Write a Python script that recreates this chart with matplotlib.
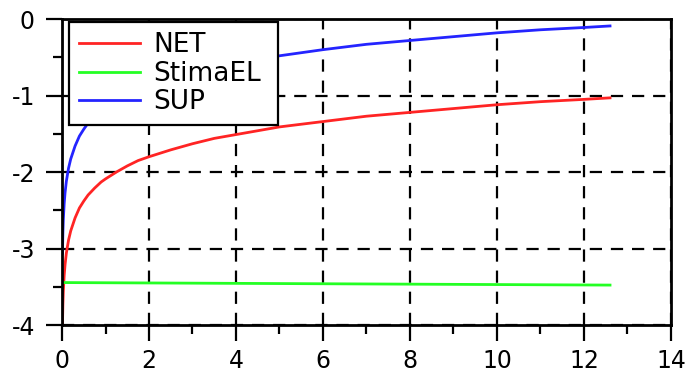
import numpy as np
import matplotlib
matplotlib.use("Agg")
import matplotlib.pyplot as plt
from matplotlib.ticker import MultipleLocator

plt.rcParams['font.family'] = 'DejaVu Sans'
plt.rcParams['axes.unicode_minus'] = False

# values
x_pts = [0.01, 0.02, 0.03, 0.05, 0.07, 0.1, 0.15, 0.2, 0.3, 0.4, 0.5, 0.6,
         0.75, 0.9, 1, 1.25, 1.5, 1.75, 2, 2.5, 3, 3.5, 4, 4.5, 5, 6, 7, 8,
         9, 10, 11, 12, 12.6]
net = [-4.0, -3.73, -3.56, -3.35, -3.21, -3.06, -2.89, -2.77, -2.60, -2.47,
       -2.38, -2.30, -2.21, -2.13, -2.09, -2.00, -1.92, -1.85, -1.80, -1.71,
       -1.63, -1.56, -1.51, -1.46, -1.41, -1.34, -1.27, -1.22, -1.17, -1.12,
       -1.08, -1.05, -1.03]
sup = [-3.06, -2.79, -2.62, -2.41, -2.27, -2.12, -1.95, -1.83, -1.66, -1.53,
       -1.44, -1.36, -1.27, -1.19, -1.15, -1.06, -0.98, -0.91, -0.86, -0.77,
       -0.69, -0.62, -0.57, -0.52, -0.48, -0.40, -0.33, -0.28, -0.23, -0.18,
       -0.14, -0.11, -0.09]
x_stima = [0.01, 12.6]
stima = [-3.445, -3.478]

fig = plt.figure(figsize=(6.86, 3.74), dpi=100)
ax = fig.add_axes([0.0904, 0.131, 0.8876, 0.818])

ax.plot(x_pts, net, color='#ff2424', lw=2.0, label='NET')
ax.plot(x_stima, stima, color='#24ff24', lw=2.0, label='StimaEL')
ax.plot(x_pts, sup, color='#2424ff', lw=2.0, label='SUP')

ax.set_xlim(0, 14)
ax.set_ylim(-4, 0)
ax.xaxis.set_major_locator(MultipleLocator(2))
ax.xaxis.set_minor_locator(MultipleLocator(1))
ax.yaxis.set_major_locator(MultipleLocator(1))
ax.yaxis.set_minor_locator(MultipleLocator(0.5))

for s in ax.spines.values():
    s.set_linewidth(2.0)
ax.tick_params(which='major', direction='out', length=11.5, width=1.6,
               labelsize=17, top=False, right=False)
ax.tick_params(which='minor', direction='out', length=6.5, width=1.6,
               top=False, right=False)
ax.tick_params(axis='y', which='major', pad=8)
ax.tick_params(axis='x', which='major', pad=6)

ax.grid(which='major', color='black', lw=1.6, linestyle=(0, (5.5, 4)))

# legend box spans about 69..278 px wide, 22..122 px tall
leg = ax.legend(loc='upper left', bbox_to_anchor=(0.0115, 0.663, 0.343, 0.327),
                mode='expand', borderaxespad=0, fontsize=19, fancybox=False,
                edgecolor='black', framealpha=1, handlelength=2.3,
                handletextpad=0.5, labelspacing=0.1, borderpad=0.38)
leg.get_frame().set_linewidth(1.6)

fig.savefig('out.png', dpi=100)
